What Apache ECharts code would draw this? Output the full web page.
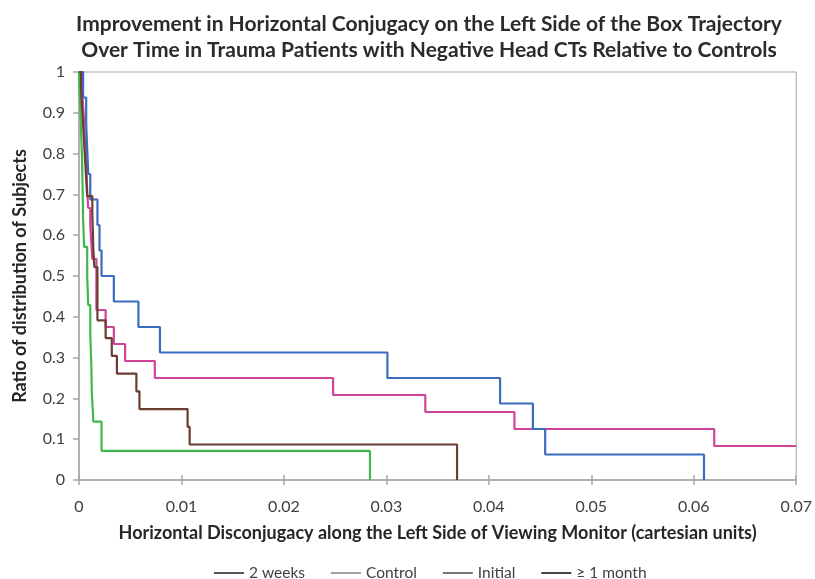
<!DOCTYPE html>
<html>
<head>
<meta charset="utf-8">
<script src="https://cdn.jsdelivr.net/npm/echarts@6/dist/echarts.min.js"></script>
<style>
html,body{margin:0;padding:0;background:#fff;}
#chart{width:815px;height:579px;}
</style>
</head>
<body>
<div id="chart"></div>
<script>
// Data (x = horizontal disconjugacy, y = ratio of subjects), step functions
var initialData = [
  [0,1.0],[0.0004,0.9375],[0.0007,0.875],[0.0008,0.8125],[0.0009,0.75],[0.0011,0.6875],
  [0.0018,0.625],[0.0020,0.5625],[0.0022,0.5],[0.0034,0.4375],[0.0058,0.375],[0.0079,0.3125],
  [0.0301,0.25],[0.0411,0.1875],[0.0443,0.125],[0.0455,0.0625],[0.0610,0]
];
var twoWeeksData = [
  [0,1.0],[0.0003,0.9583],[0.0004,0.9167],[0.0005,0.875],[0.0006,0.8333],[0.0007,0.7917],
  [0.00075,0.75],[0.0008,0.7083],[0.0009,0.6667],[0.0011,0.625],[0.0012,0.5833],[0.0013,0.5417],
  [0.0017,0.4167],[0.0026,0.375],[0.0034,0.3333],[0.0045,0.2917],[0.0074,0.25],[0.0248,0.2083],
  [0.0338,0.1667],[0.0425,0.125],[0.0620,0.0833],[0.0700,0.0833]
];
var oneMonthData = [
  [0,1.0],[0.0002,0.9565],[0.0003,0.913],[0.0004,0.8696],[0.0005,0.8261],[0.0006,0.7826],
  [0.0007,0.7391],[0.0008,0.6957],[0.0013,0.6522],[0.00135,0.6087],[0.0014,0.5652],[0.0015,0.5217],
  [0.0018,0.3913],[0.0026,0.3478],[0.0032,0.3043],[0.0037,0.2609],[0.0056,0.2174],[0.0059,0.1739],
  [0.0106,0.1304],[0.0108,0.0870],[0.0369,0]
];
var controlData = [
  [0,1.0],[0.0001,0.9286],[0.0002,0.8571],[0.0003,0.7857],[0.00035,0.7143],[0.0004,0.6429],
  [0.0005,0.5714],[0.0008,0.5],[0.0009,0.4286],[0.0011,0.3571],[0.0012,0.2857],[0.00125,0.2143],
  [0.0014,0.1429],[0.0022,0.0714],[0.0284,0]
];
var legendNames = ['2 weeks','Control','Initial','\u2265 1 month'];
var legendIconColors = ['#555555','#a0a0a0','#777777','#444444'];
var xTicks = [0,0.01,0.02,0.03,0.04,0.05,0.06,0.07];
var yTicks = [0,0.1,0.2,0.3,0.4,0.5,0.6,0.7,0.8,0.9,1];

var chart = echarts.init(document.getElementById('chart'));
var FONT = 'Lato';
function mkSeries(name, data, color){
  return {name:name, type:'line', step:'end', data:data, symbol:'none', showSymbol:false,
    lineStyle:{color:color, width:2.2}, itemStyle:{color:color}, animation:false, xAxisIndex:0, yAxisIndex:0};
}
var option = {
  animation:false,
  backgroundColor:'#fff',
  title:{
    text:'Improvement in Horizontal Conjugacy on the Left Side of the Box Trajectory\nOver Time in Trauma Patients with Negative Head CTs Relative to Controls',
    left:424, top:6, textAlign:'center',
    textStyle:{fontFamily:FONT, fontWeight:'bold', fontSize:21, color:'#2b2b2b', lineHeight:26}
  },
  legend:{
    top:560, left:209, icon:'rect', itemWidth:30, itemHeight:2, itemGap:26,
    textStyle:{fontFamily:FONT, fontSize:15.5, color:'#404040'},
    data: legendNames.map(function(n,i){return {name:n, itemStyle:{color:legendIconColors[i]}};})
  },
  grid:{left:79, right:17, top:72, bottom:99, show:true, borderColor:'#a6a6a6', borderWidth:1},
  xAxis:[{
    type:'value', min:0, max:0.07, interval:0.01,
    name:'Horizontal Disconjugacy along the Left Side of Viewing Monitor (cartesian units)',
    nameLocation:'middle', nameGap:44,
    nameTextStyle:{fontFamily:FONT, fontWeight:'bold', fontSize:18, color:'#262626'},
    axisLine:{show:true, lineStyle:{color:'#a6a6a6', width:1.5}},
    axisTick:{show:true, length:5, lineStyle:{color:'#a6a6a6', width:1.5}},
    axisLabel:{fontFamily:FONT, fontSize:16, color:'#404040', margin:19,
      formatter:function(v){return xTicks.indexOf(Math.round(v*100)/100)>=0 ? String(Math.round(v*100)/100) : '';}},
    splitLine:{show:false}
  },{
    type:'value', min:0, max:0.07, interval:0.01, position:'bottom',
    axisLine:{show:false}, axisLabel:{show:false}, splitLine:{show:false},
    axisTick:{show:true, inside:true, length:5, lineStyle:{color:'#a6a6a6', width:1.5}}
  }],
  yAxis:{
    type:'value', min:0, max:1, interval:0.1,
    name:'Ratio of distribution of Subjects', nameLocation:'middle', nameGap:50,
    nameTextStyle:{fontFamily:FONT, fontWeight:'bold', fontSize:18, color:'#262626'},
    axisLine:{show:true, lineStyle:{color:'#a6a6a6', width:1.5}},
    axisTick:{show:true, length:6, lineStyle:{color:'#a6a6a6', width:1.5}},
    axisLabel:{fontFamily:FONT, fontSize:16, color:'#404040', margin:14,
      formatter:function(v){var r=Math.round(v*10)/10; return yTicks.indexOf(r)>=0 ? String(r) : '';}},
    splitLine:{show:false}
  },
  series:[
    mkSeries('2 weeks', twoWeeksData, '#d2449a'),
    mkSeries('Control', controlData, '#3fb94a'),
    mkSeries('Initial', initialData, '#3a6cc0'),
    mkSeries('\u2265 1 month', oneMonthData, '#6b3d33')
  ]
};
chart.setOption(option);
</script>
</body>
</html>
